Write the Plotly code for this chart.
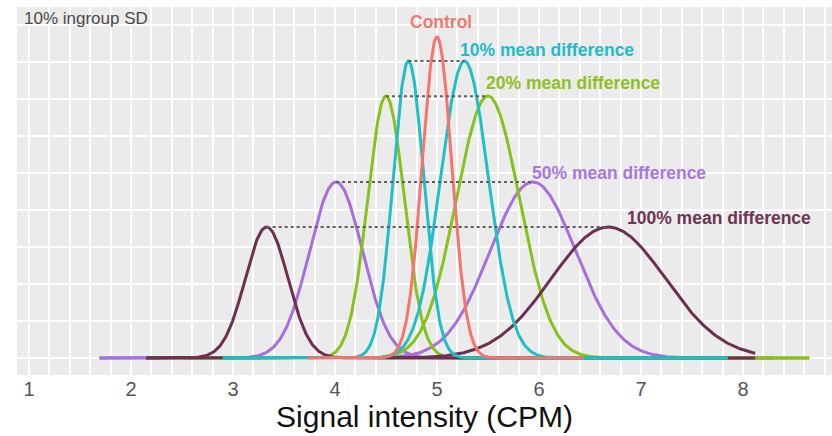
import numpy as np
import plotly.graph_objects as go

# ---- data ----
groups = ["Control", "10% mean difference", "20% mean difference",
          "50% mean difference", "100% mean difference"]
colors = ["#F5756E", "#1FBFC6", "#86C21A", "#A66FDB", "#6E3050"]
label_colors = ["#F27873", "#22BCC8", "#8CC21E", "#A877DE", "#6E3452"]
# means of the left / right group of each pair (control has one group)
mean_left = [5.00, 4.72, 4.50, 4.01, 3.33]
mean_right = [None, 5.27, 5.50, 5.94, 6.68]
sd_left = [0.145, 0.15, 0.18, 0.26, 0.21]
sd_right = [None, 0.235, 0.31, 0.42, 0.56]
peak = [0.868, 0.803, 0.708, 0.476, 0.354]
range_min = [3.73, 2.90, 2.50, 1.69, 2.15]
range_max = [6.44, 7.85, 8.65, 8.30, 8.12]
x_ticks = [1, 2, 3, 4, 5, 6, 7, 8]

draw_order = [3, 2, 4, 1, 0]  # purple, green, brown, teal, control on top

fig = go.Figure()


def density(x, m, s, h):
    return h * np.exp(-0.5 * ((x - m) / s) ** 2)


for i in draw_order:
    xs = np.linspace(range_min[i], range_max[i], 600)
    parts = [(mean_left[i], sd_left[i])]
    if mean_right[i] is not None:
        parts.append((mean_right[i], sd_right[i]))
    for m, s in parts:
        fig.add_trace(go.Scatter(x=xs, y=density(xs, m, s, peak[i]), mode="lines",
                                 line=dict(color=colors[i], width=3),
                                 hoverinfo="skip", showlegend=False))

# dotted connectors between pair peaks
for i in range(1, 5):
    fig.add_trace(go.Scatter(x=[mean_left[i], mean_right[i]], y=[peak[i], peak[i]],
                             mode="lines", line=dict(color="#606060", width=2, dash="dot"),
                             hoverinfo="skip", showlegend=False))

# labels
label_pos = [  # (x anchor value, y value, xanchor)
    (5.04, 0.908, "center"),
    (5.206, 0.832, "left"),
    (5.461, 0.743, "left"),
    (5.912, 0.500, "left"),
    (6.843, 0.378, "left"),
]
for i, g in enumerate(groups):
    x, y, xa = label_pos[i]
    fig.add_annotation(x=x, y=y, text="<b>" + g + "</b>", showarrow=False,
                       xanchor=xa, yanchor="middle",
                       font=dict(family="Liberation Sans, Arial", size=17.5, color=label_colors[i]))

fig.add_annotation(x=0.93, y=0.919, text="10% ingroup SD", showarrow=False,
                   xanchor="left", yanchor="middle",
                   font=dict(family="Liberation Sans, Arial", size=17, color="#4a4a4a"))

fig.update_layout(
    width=832, height=436,
    margin=dict(l=17, r=0, t=7, b=61),
    paper_bgcolor="white", plot_bgcolor="#EBEBEB",
    font=dict(family="Liberation Sans, Arial"),
)
fig.update_xaxes(range=[0.882, 8.873], tickvals=x_ticks, ticktext=[str(v) for v in x_ticks],
                 showgrid=True, gridcolor="white", gridwidth=1.6,
                 minor=dict(dtick=0.2, tick0=0, showgrid=True, gridcolor="white", gridwidth=1.6),
                 zeroline=False, showline=False, ticks="",
                 tickfont=dict(size=20, color="#555555"),
                 title=dict(text="Signal intensity (CPM)", font=dict(size=30, color="#111111"), standoff=3))
fig.update_yaxes(range=[-0.046, 0.949], dtick=0.1, tick0=0, showticklabels=False,
                 showgrid=True, gridcolor="white", gridwidth=1.6, zeroline=False, ticks="")

fig.write_html("out.html")
